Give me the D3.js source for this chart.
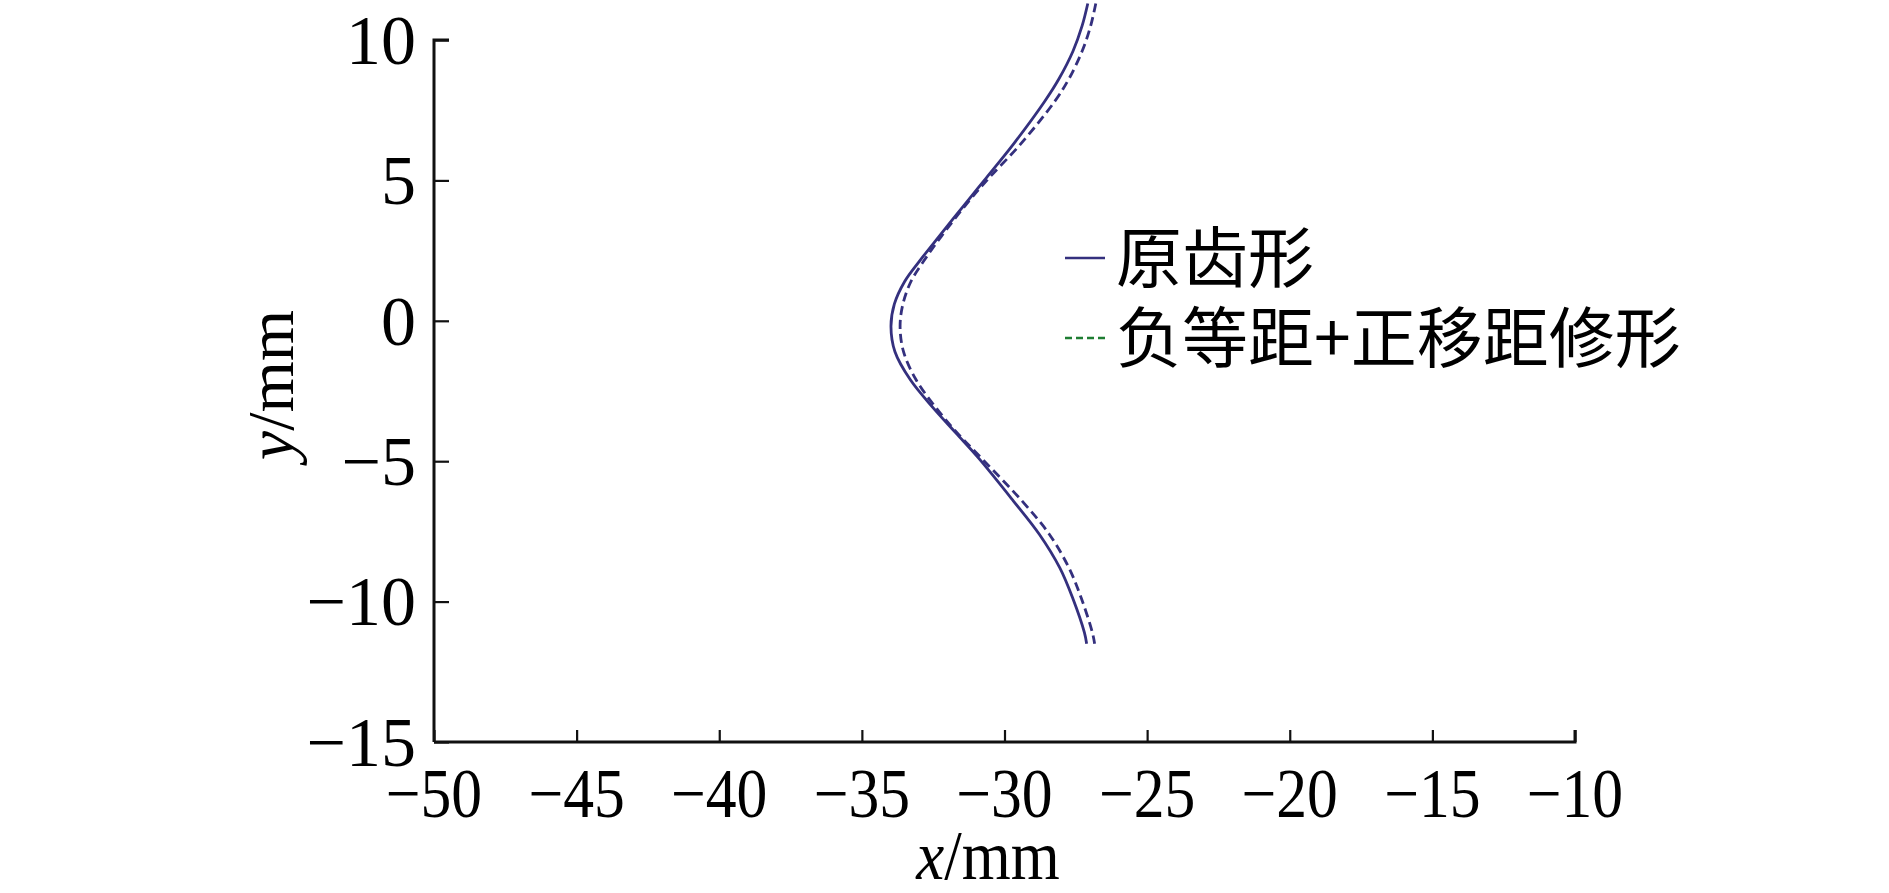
<!DOCTYPE html>
<html>
<head>
<meta charset="utf-8">
<script src="https://cdn.jsdelivr.net/npm/d3@7"></script>
<style>
  body { margin: 0; background: #fff; }
  svg { display: block; }
</style>
</head>
<body>
<script>
// tooth profile (mm)
var profY = [11.3, 10.5, 9.6, 8.6, 7.8, 6.3, 5.1, 4.3, 3.0, 2.1, 1.4, 0.6, -0.2, -1.1, -2.1, -3.1, -4.0, -4.9, -6.4, -7.6, -8.8, -9.9, -11.1, -11.5];
var origX = [-27.08, -27.28, -27.6, -28.1, -28.6, -29.68, -30.63, -31.27, -32.3, -33.0, -33.5, -33.86, -33.98, -33.84, -33.3, -32.5, -31.7, -30.9, -29.7, -28.78, -28.06, -27.6, -27.2, -27.12];
var modX = [-26.8, -26.98, -27.28, -27.75, -28.25, -29.43, -30.53, -31.22, -32.22, -32.85, -33.28, -33.56, -33.66, -33.54, -33.1, -32.4, -31.65, -30.8, -29.4, -28.43, -27.74, -27.3, -26.92, -26.84];

var xTicks = [-50, -45, -40, -35, -30, -25, -20, -15, -10];
var yTicks = [-15, -10, -5, 0, 5, 10];
var legendNames = ["原齿形", "负等距+正移距修形"];

var width = 1889, height = 893;
var navy = "#34307e";

var svg = d3.select("body").append("svg")
  .attr("width", width)
  .attr("height", height);

var x = d3.scaleLinear().domain([-50, -10]).range([434, 1575]);
var y = d3.scaleLinear().domain([-15, 10]).range([742, 40]);

var fmt = function(d) { return d < 0 ? "\u2212" + Math.abs(d) : String(d); };

// axes, ticks point inward
var xAxis = svg.append("g")
  .attr("transform", "translate(0," + y(-15) + ")")
  .call(d3.axisBottom(x).tickValues(xTicks).tickSize(-12).tickPadding(0).tickFormat(""));
var yAxis = svg.append("g")
  .attr("transform", "translate(" + x(-50) + ",0)")
  .call(d3.axisLeft(y).tickValues(yTicks).tickSize(-15).tickPadding(0).tickFormat(""));

[xAxis, yAxis].forEach(function(a) {
  a.select(".domain").attr("stroke", "#111").attr("stroke-width", 3);
  a.selectAll(".tick line").attr("stroke", "#111").attr("stroke-width", 2.2);
});
xAxis.select(".domain").attr("d", "M" + x(-50) + ",0H" + x(-10) + "V-12");
yAxis.select(".domain").attr("d", "M15," + y(10) + "H0V" + y(-15));

var tickFont = "Liberation Serif";

svg.append("g").selectAll("text")
  .data(xTicks)
  .enter().append("text")
  .attr("transform", function(d) { return "translate(" + x(d) + ",817) scale(0.88,1)"; })
  .attr("text-anchor", "middle")
  .attr("font-family", tickFont)
  .attr("font-size", 70)
  .text(fmt);

svg.append("g").selectAll("text")
  .data(yTicks)
  .enter().append("text")
  .attr("x", 416)
  .attr("y", function(d) { return y(d); })
  .attr("dy", "0.34em")
  .attr("text-anchor", "end")
  .attr("font-family", tickFont)
  .attr("font-size", 70)
  .text(fmt);

// axis titles
var xt = svg.append("text")
  .attr("transform", "translate(988,879) scale(0.9,1)")
  .attr("text-anchor", "middle")
  .attr("font-family", tickFont)
  .attr("font-size", 70);
xt.append("tspan").attr("font-style", "italic").text("x");
xt.append("tspan").text("/mm");

var yt = svg.append("text")
  .attr("transform", "translate(293,385) rotate(-90)")
  .attr("text-anchor", "middle")
  .attr("font-family", tickFont)
  .attr("font-size", 66);
yt.append("tspan").attr("font-style", "italic").text("y");
yt.append("tspan").text("/mm");

// curves
var line = d3.line()
  .x(function(d) { return x(d[0]); })
  .y(function(d) { return y(d[1]); })
  .curve(d3.curveCatmullRom.alpha(0.5));

svg.append("path")
  .datum(d3.zip(origX, profY))
  .attr("d", line)
  .attr("fill", "none")
  .attr("stroke", navy)
  .attr("stroke-width", 2.8);

svg.append("path")
  .datum(d3.zip(modX, profY))
  .attr("d", line)
  .attr("fill", "none")
  .attr("stroke", navy)
  .attr("stroke-width", 2.8)
  .attr("stroke-dasharray", "9,5");

// legend
var legend = svg.append("g");
var legendStyle = [
  { stroke: navy, dash: null },
  { stroke: "#1e7d32", dash: "7,4" }
];
var ly = [258, 338];

legend.selectAll("line")
  .data(legendNames)
  .enter().append("line")
  .attr("x1", 1065).attr("x2", 1105)
  .attr("y1", function(d, i) { return ly[i]; })
  .attr("y2", function(d, i) { return ly[i]; })
  .attr("stroke", function(d, i) { return legendStyle[i].stroke; })
  .attr("stroke-width", 2.6)
  .attr("stroke-dasharray", function(d, i) { return legendStyle[i].dash; });

legend.selectAll("text")
  .data(legendNames)
  .enter().append("text")
  .attr("x", 1116)
  .attr("y", function(d, i) { return ly[i]; })
  .attr("dy", "0.36em")
  .attr("font-family", "'Noto Sans CJK SC', sans-serif")
  .attr("font-size", 66)
  .text(function(d) { return d; });
</script>
</body>
</html>
